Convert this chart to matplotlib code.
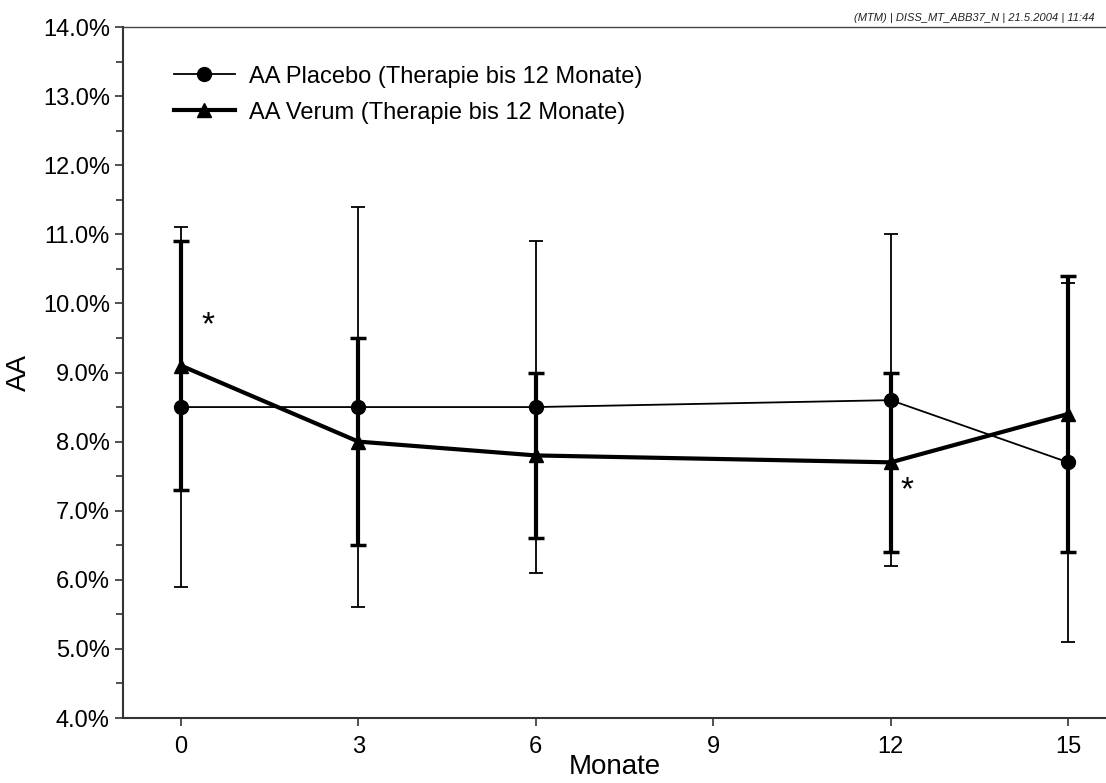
import matplotlib
matplotlib.use("Agg")
import matplotlib.pyplot as plt
from matplotlib.lines import Line2D
from matplotlib.ticker import FuncFormatter, MultipleLocator

plt.rcParams['font.family'] = ['Liberation Sans', 'DejaVu Sans']

# data
monate = [0, 3, 6, 12, 15]
placebo = [8.5, 8.5, 8.5, 8.6, 7.7]
placebo_err = [2.6, 2.9, 2.4, 2.4, 2.6]
verum = [9.1, 8.0, 7.8, 7.7, 8.4]
verum_err = [1.8, 1.5, 1.2, 1.3, 2.0]
stern_x = [0.46, 12.28]
stern_y = [9.68, 7.29]
x_ticks = [0, 3, 6, 9, 12, 15]
labels = ['AA Placebo (Therapie bis 12 Monate)', 'AA Verum (Therapie bis 12 Monate)']
stempel = "(MTM) | DISS_MT_ABB37_N | 21.5.2004 | 11:44"

fig = plt.figure(figsize=(11.06, 7.83), dpi=100)
ax = fig.add_axes([0.1112, 0.083, 0.8888, 0.8825])

ax.errorbar(monate, placebo, yerr=placebo_err, color='black', lw=1.3,
            marker='o', ms=10, elinewidth=1.3, capsize=5, capthick=1.3,
            zorder=3)
ax.errorbar(monate, verum, yerr=verum_err, color='black', lw=3,
            marker='^', ms=10, elinewidth=3, capsize=5.5, capthick=2.5,
            zorder=4)

for sx, sy in zip(stern_x, stern_y):
    ax.text(sx, sy, '*', fontsize=24, ha='center', va='center')

ax.set_xlim(-0.98, 15.64)
ax.set_ylim(4, 14)
ax.set_xticks(x_ticks)
ax.yaxis.set_major_locator(MultipleLocator(1))
ax.yaxis.set_minor_locator(MultipleLocator(0.5))
ax.yaxis.set_major_formatter(FuncFormatter(lambda v, p: f'{v:.1f}%'))

ax.tick_params(axis='both', which='both', direction='out', labelsize=17,
               color='#333333', width=1.2)
ax.tick_params(axis='both', which='major', length=6)
ax.tick_params(axis='x', which='major', pad=7)
ax.tick_params(axis='y', which='minor', length=5)

ax.spines['right'].set_visible(False)
for s in ['left', 'bottom']:
    ax.spines[s].set_color('#333333')
    ax.spines[s].set_linewidth(1.5)
ax.spines['top'].set_color('#444444')
ax.spines['top'].set_linewidth(1.0)

ax.set_xlabel('Monate', fontsize=20, labelpad=-3)
ax.set_ylabel('AA', fontsize=20, labelpad=8)

handles = [Line2D([], [], color='black', lw=1.3, marker='o', ms=10),
           Line2D([], [], color='black', lw=3, marker='^', ms=10)]
ax.legend(handles, labels, loc='upper left', bbox_to_anchor=(0.03, 0.975),
          frameon=False, fontsize=17, handlelength=2.6, handletextpad=0.6,
          labelspacing=0.6)

fig.text(0.99, 0.977, stempel, fontsize=8, style='italic', ha='right',
         va='center', color='#222222')

fig.savefig('out.png', dpi=100)
